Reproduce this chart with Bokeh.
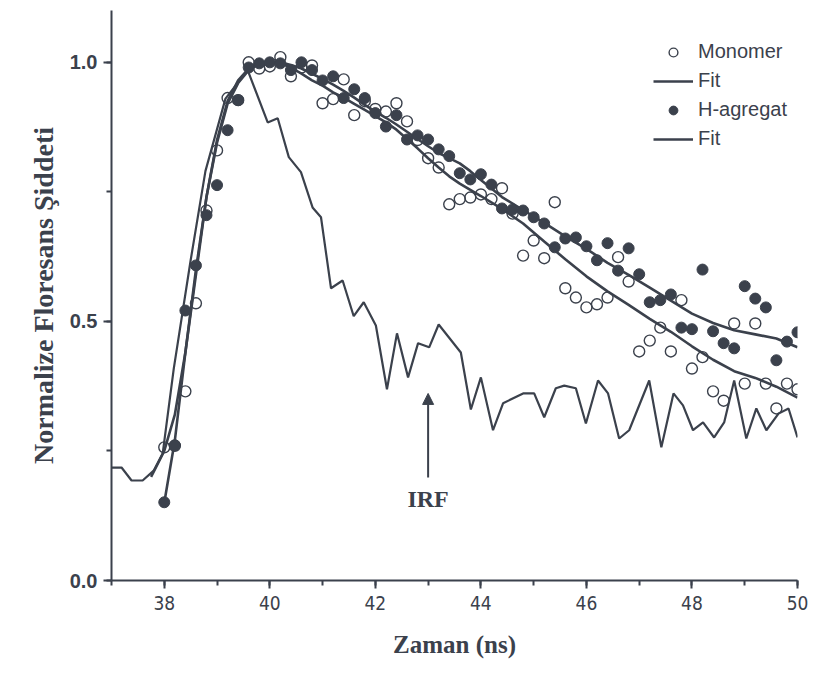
from bokeh.plotting import figure
from bokeh.models import (Range1d, SingleIntervalTicker, Legend, LegendItem,
                          Arrow, NormalHead, Label, PrintfTickFormatter)
from bokeh.embed import file_html
from bokeh.resources import INLINE

# ---------------- data ----------------
t_data = [38.0, 38.2, 38.4, 38.6, 38.8, 39.0, 39.2, 39.4, 39.6, 39.8,
          40.0, 40.2, 40.4, 40.6, 40.8, 41.0, 41.2, 41.4, 41.6, 41.8,
          42.0, 42.2, 42.4, 42.6, 42.8, 43.0, 43.2, 43.4, 43.6, 43.8,
          44.0, 44.2, 44.4, 44.6, 44.8, 45.0, 45.2, 45.4, 45.6, 45.8,
          46.0, 46.2, 46.4, 46.6, 46.8, 47.0, 47.2, 47.4, 47.6, 47.8,
          48.0, 48.2, 48.4, 48.6, 48.8, 49.0, 49.2, 49.4, 49.6, 49.8, 50.0]

monomer = [0.257, 0.26, 0.365, 0.535, 0.714, 0.830, 0.931, 0.927, 1.0, 0.988,
           0.992, 1.01, 0.973, 0.990, 0.994, 0.921, 0.929, 0.967, 0.898, 0.925,
           0.91, 0.905, 0.921, 0.886, 0.85, 0.815, 0.797, 0.726, 0.736, 0.739,
           0.745, 0.736, 0.757, 0.708, 0.627, 0.656, 0.622, 0.730, 0.564, 0.546,
           0.527, 0.533, 0.546, 0.624, 0.577, 0.442, 0.463, 0.488, 0.442, 0.541,
           0.409, 0.431, 0.365, 0.347, 0.496, 0.380, 0.496, 0.380, 0.332, 0.380, 0.369]

h_agregat = [0.151, 0.261, 0.521, 0.608, 0.705, 0.763, 0.869, 0.927, 0.990, 0.998,
             1.0, 0.998, 0.985, 1.0, 0.985, 0.965, 0.973, 0.931, 0.948, 0.931,
             0.902, 0.876, 0.898, 0.851, 0.859, 0.851, 0.832, 0.819, 0.786, 0.774,
             0.784, 0.764, 0.718, 0.716, 0.714, 0.701, 0.689, 0.643, 0.660, 0.662,
             0.645, 0.618, 0.651, 0.598, 0.641, 0.591, 0.537, 0.541, 0.552, 0.488,
             0.485, 0.600, 0.481, 0.458, 0.448, 0.568, 0.544, 0.527, 0.425, 0.461, 0.479]

fit_mono_t = [37.75, 38.0, 38.2, 38.4, 38.6, 38.8, 39.0, 39.2, 39.4, 39.6, 39.8,
              40.0, 40.2, 40.4, 40.6, 40.8, 41.0, 41.2, 41.4, 41.6, 41.8, 42.0,
              42.2, 42.4, 42.6, 42.8, 43.0, 43.2, 43.4, 43.6, 43.8, 44.0, 44.4,
              44.8, 45.2, 45.6, 46.0, 46.4, 46.8, 47.2, 47.6, 48.0, 48.4, 48.8,
              49.2, 49.6, 50.0]
fit_mono = [0.20, 0.25, 0.32, 0.44, 0.59, 0.74, 0.85, 0.925, 0.965, 0.988, 0.998,
            1.0, 0.998, 0.99, 0.978, 0.965, 0.955, 0.942, 0.932, 0.92, 0.908, 0.896,
            0.884, 0.870, 0.852, 0.834, 0.815, 0.797, 0.780, 0.766, 0.754, 0.742, 0.717,
            0.689, 0.654, 0.620, 0.587, 0.558, 0.532, 0.505, 0.480, 0.452, 0.426, 0.404,
            0.391, 0.374, 0.353]

fit_h_t = [38.0, 38.2, 38.4, 38.6, 38.8, 39.0, 39.2, 39.4, 39.6, 39.8,
           40.0, 40.2, 40.4, 40.6, 40.8, 41.0, 41.2, 41.4, 41.6, 41.8, 42.0,
           42.2, 42.4, 42.6, 42.8, 43.0, 43.2, 43.4, 43.6, 43.8, 44.0, 44.4,
           44.8, 45.2, 45.6, 46.0, 46.4, 46.8, 47.2, 47.6, 48.0, 48.4, 48.8,
           49.2, 49.6, 50.0]
fit_h = [0.15, 0.27, 0.44, 0.60, 0.74, 0.845, 0.92, 0.96, 0.985, 0.997,
         1.0, 1.0, 0.995, 0.988, 0.978, 0.968, 0.957, 0.945, 0.932, 0.918, 0.905,
         0.893, 0.88, 0.866, 0.852, 0.838, 0.825, 0.815, 0.805, 0.79, 0.773, 0.74,
         0.715, 0.69, 0.664, 0.64, 0.613, 0.59, 0.565, 0.54, 0.515, 0.497, 0.483,
         0.475, 0.467, 0.45]

irf_t = [37.00, 37.19, 37.38, 37.59, 37.80, 37.97, 38.18, 38.50, 38.78, 39.16, 39.58,
         39.96, 40.15, 40.36, 40.59, 40.81, 40.97, 41.16, 41.38, 41.59, 41.78,
         42.01, 42.22, 42.41, 42.62, 42.81, 43.02, 43.20, 43.62, 43.81, 44.00,
         44.23, 44.42, 44.80, 45.01, 45.20, 45.42, 45.58, 45.80, 45.99, 46.22,
         46.41, 46.62, 46.81, 47.19, 47.42, 47.65, 47.83, 48.02, 48.21, 48.42,
         48.61, 48.80, 49.03, 49.22, 49.41, 49.64, 49.83, 50.0]
irf = [0.218, 0.218, 0.193, 0.193, 0.212, 0.245, 0.409, 0.618, 0.79, 0.93, 0.985,
       0.884, 0.892, 0.817, 0.788, 0.720, 0.701, 0.564, 0.579, 0.510, 0.537,
       0.492, 0.369, 0.477, 0.392, 0.458, 0.450, 0.494, 0.440, 0.330, 0.392,
       0.290, 0.342, 0.361, 0.361, 0.315, 0.371, 0.376, 0.371, 0.303, 0.386,
       0.361, 0.274, 0.290, 0.386, 0.257, 0.361, 0.338, 0.290, 0.305, 0.276,
       0.305, 0.386, 0.274, 0.332, 0.290, 0.322, 0.332, 0.276]

x_label = "Zaman (ns)"
y_label = "Normalize Floresans Şiddeti"
legend_labels = ["Monomer", "Fit", "H-agregat", "Fit"]
irf_text = "IRF"

# ---------------- styling ----------------
C = "#3b414c"
SERIF = "Liberation Serif"
SANS = "Liberation Sans"
NARROW = "'Liberation Sans Narrow', 'DejaVu Sans Condensed', 'Liberation Sans', sans-serif"

p = figure(width=815, height=673, output_backend="svg", toolbar_location=None,
           x_range=Range1d(37, 50), y_range=Range1d(0, 1.1),
           min_border_left=111, min_border_right=18, min_border_top=10,
           min_border_bottom=93)
p.outline_line_color = None
p.xgrid.visible = False
p.ygrid.visible = False
p.background_fill_color = "white"
p.border_fill_color = "white"

p.xaxis.ticker = SingleIntervalTicker(interval=2, num_minor_ticks=2)
p.yaxis.ticker = SingleIntervalTicker(interval=0.5, num_minor_ticks=2)
p.yaxis.formatter = PrintfTickFormatter(format="%.1f")

for ax in (p.xaxis, p.yaxis):
    ax.axis_line_color = C
    ax.axis_line_width = 2
    ax.major_tick_line_color = C
    ax.minor_tick_line_color = C
    ax.major_tick_line_width = 2
    ax.minor_tick_line_width = 2
    ax.major_tick_in = 0
    ax.major_tick_out = 8
    ax.minor_tick_in = 0
    ax.minor_tick_out = 5
    ax.major_label_text_color = C
    ax.axis_label_text_color = C
    ax.axis_label_text_font = SERIF
    ax.axis_label_text_font_style = "bold"

p.xaxis.major_label_text_font = NARROW
p.xaxis.major_label_text_font_size = "19px"
p.xaxis.major_label_standoff = 7
p.xaxis.axis_label = x_label
p.xaxis.axis_label_standoff = 18
p.xaxis.axis_label_text_font_size = "25px"

p.yaxis.major_label_text_font = SANS
p.yaxis.major_label_text_font_style = "bold"
p.yaxis.major_label_text_font_size = "20px"
p.yaxis.major_label_standoff = 6
p.yaxis.axis_label = y_label
p.yaxis.axis_label_standoff = 8
p.yaxis.axis_label_text_font_size = "28px"

# ---------------- glyphs ----------------
r_irf = p.line(irf_t, irf, line_color=C, line_width=2.2)
r_fm = p.line(fit_mono_t, fit_mono, line_color=C, line_width=2.6)
r_fh = p.line(fit_h_t, fit_h, line_color=C, line_width=2.6)
r_mono = p.scatter(t_data, monomer, marker="circle", size=11, fill_color=None,
                   line_color=C, line_width=1.4)
r_h = p.scatter(t_data, h_agregat, marker="circle", size=11, fill_color=C,
                line_color=C, line_width=1)

legend = Legend(items=[LegendItem(label=legend_labels[0], renderers=[r_mono]),
                       LegendItem(label=legend_labels[1], renderers=[r_fm]),
                       LegendItem(label=legend_labels[2], renderers=[r_h]),
                       LegendItem(label=legend_labels[3], renderers=[r_fh])],
                location=(542, 430), orientation="vertical",
                border_line_color=None, background_fill_alpha=0,
                padding=0, margin=0, spacing=6, glyph_width=40, glyph_height=22,
                label_standoff=5, label_text_font=SANS, label_text_font_size="20px",
                label_text_color=C, label_height=22)
p.add_layout(legend)

p.add_layout(Arrow(end=NormalHead(size=11, fill_color=C, line_color=C),
                   x_start=43.0, y_start=0.199, x_end=43.0, y_end=0.361,
                   line_color=C, line_width=2))
p.add_layout(Label(x=43.0, y=0.158, text=irf_text, text_align="center",
                   text_baseline="middle", text_font=SERIF, text_font_style="bold",
                   text_font_size="24px", text_color=C))

open("out.html", "w").write(file_html(p, INLINE))
